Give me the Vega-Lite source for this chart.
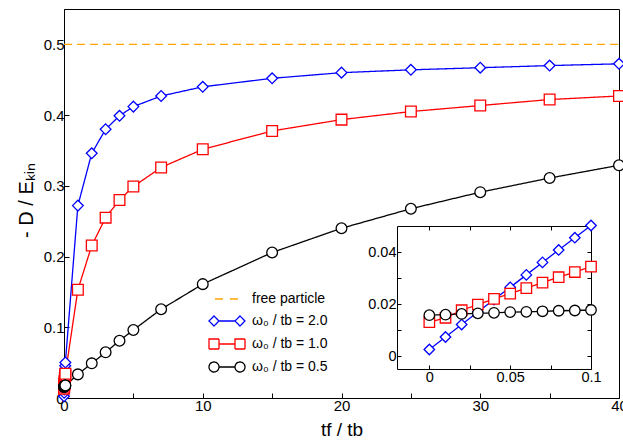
{
  "$schema": "https://vega.github.io/schema/vega-lite/v6.json",
  "width": 555,
  "height": 389,
  "autosize": {"type": "none"},
  "padding": {"left": 64, "top": 9, "right": 4, "bottom": 45},
  "background": "white",
  "config": {
    "font": "Liberation Sans",
    "view": {"stroke": "black", "strokeWidth": 1},
    "axis": {
      "grid": false,
      "domainColor": "black",
      "tickColor": "black",
      "labelColor": "black",
      "titleColor": "black",
      "labelFont": "Liberation Sans",
      "titleFont": "Liberation Sans",
      "titleFontWeight": "normal",
      "labelFontSize": 15,
      "tickSize": -5,
      "labelPadding": 5,
      "labelFlush": false,
      "labelOverlap": false
    }
  },
  "data": {
    "values": [
      {"s": "free particle", "x": 0, "y": 0.5},
      {"s": "free particle", "x": 40, "y": 0.5},
      {"s": "ω₀ / tb = 2.0", "x": 0, "y": 0.0025},
      {"s": "ω₀ / tb = 2.0", "x": 0.01, "y": 0.0073},
      {"s": "ω₀ / tb = 2.0", "x": 0.02, "y": 0.0121},
      {"s": "ω₀ / tb = 2.0", "x": 0.03, "y": 0.0169},
      {"s": "ω₀ / tb = 2.0", "x": 0.04, "y": 0.0217},
      {"s": "ω₀ / tb = 2.0", "x": 0.05, "y": 0.0264},
      {"s": "ω₀ / tb = 2.0", "x": 0.06, "y": 0.0312},
      {"s": "ω₀ / tb = 2.0", "x": 0.07, "y": 0.036},
      {"s": "ω₀ / tb = 2.0", "x": 0.08, "y": 0.0408},
      {"s": "ω₀ / tb = 2.0", "x": 0.09, "y": 0.0455},
      {"s": "ω₀ / tb = 2.0", "x": 0.1, "y": 0.0502},
      {"s": "ω₀ / tb = 2.0", "x": 1, "y": 0.272},
      {"s": "ω₀ / tb = 2.0", "x": 2, "y": 0.346},
      {"s": "ω₀ / tb = 2.0", "x": 3, "y": 0.38},
      {"s": "ω₀ / tb = 2.0", "x": 4, "y": 0.399},
      {"s": "ω₀ / tb = 2.0", "x": 5, "y": 0.412},
      {"s": "ω₀ / tb = 2.0", "x": 7, "y": 0.427},
      {"s": "ω₀ / tb = 2.0", "x": 10, "y": 0.44},
      {"s": "ω₀ / tb = 2.0", "x": 15, "y": 0.452},
      {"s": "ω₀ / tb = 2.0", "x": 20, "y": 0.46},
      {"s": "ω₀ / tb = 2.0", "x": 25, "y": 0.464},
      {"s": "ω₀ / tb = 2.0", "x": 30, "y": 0.467},
      {"s": "ω₀ / tb = 2.0", "x": 35, "y": 0.47},
      {"s": "ω₀ / tb = 2.0", "x": 40, "y": 0.4725},
      {"s": "ω₀ / tb = 1.0", "x": 0, "y": 0.013},
      {"s": "ω₀ / tb = 1.0", "x": 0.01, "y": 0.0147},
      {"s": "ω₀ / tb = 1.0", "x": 0.02, "y": 0.0176},
      {"s": "ω₀ / tb = 1.0", "x": 0.03, "y": 0.0198},
      {"s": "ω₀ / tb = 1.0", "x": 0.04, "y": 0.022},
      {"s": "ω₀ / tb = 1.0", "x": 0.05, "y": 0.024},
      {"s": "ω₀ / tb = 1.0", "x": 0.06, "y": 0.0261},
      {"s": "ω₀ / tb = 1.0", "x": 0.07, "y": 0.0282},
      {"s": "ω₀ / tb = 1.0", "x": 0.08, "y": 0.0303},
      {"s": "ω₀ / tb = 1.0", "x": 0.09, "y": 0.0323},
      {"s": "ω₀ / tb = 1.0", "x": 0.1, "y": 0.0344},
      {"s": "ω₀ / tb = 1.0", "x": 1, "y": 0.153},
      {"s": "ω₀ / tb = 1.0", "x": 2, "y": 0.2156},
      {"s": "ω₀ / tb = 1.0", "x": 3, "y": 0.255},
      {"s": "ω₀ / tb = 1.0", "x": 4, "y": 0.28},
      {"s": "ω₀ / tb = 1.0", "x": 5, "y": 0.299},
      {"s": "ω₀ / tb = 1.0", "x": 7, "y": 0.326},
      {"s": "ω₀ / tb = 1.0", "x": 10, "y": 0.3516},
      {"s": "ω₀ / tb = 1.0", "x": 15, "y": 0.3776},
      {"s": "ω₀ / tb = 1.0", "x": 20, "y": 0.3936},
      {"s": "ω₀ / tb = 1.0", "x": 25, "y": 0.405},
      {"s": "ω₀ / tb = 1.0", "x": 30, "y": 0.4135},
      {"s": "ω₀ / tb = 1.0", "x": 35, "y": 0.422},
      {"s": "ω₀ / tb = 1.0", "x": 40, "y": 0.427},
      {"s": "ω₀ / tb = 0.5", "x": 0, "y": 0.0157},
      {"s": "ω₀ / tb = 0.5", "x": 0.01, "y": 0.0159},
      {"s": "ω₀ / tb = 0.5", "x": 0.02, "y": 0.0162},
      {"s": "ω₀ / tb = 0.5", "x": 0.03, "y": 0.0164},
      {"s": "ω₀ / tb = 0.5", "x": 0.04, "y": 0.0166},
      {"s": "ω₀ / tb = 0.5", "x": 0.05, "y": 0.0169},
      {"s": "ω₀ / tb = 0.5", "x": 0.06, "y": 0.017},
      {"s": "ω₀ / tb = 0.5", "x": 0.07, "y": 0.0172},
      {"s": "ω₀ / tb = 0.5", "x": 0.08, "y": 0.0174},
      {"s": "ω₀ / tb = 0.5", "x": 0.09, "y": 0.0175},
      {"s": "ω₀ / tb = 0.5", "x": 0.1, "y": 0.0177},
      {"s": "ω₀ / tb = 0.5", "x": 1, "y": 0.0334},
      {"s": "ω₀ / tb = 0.5", "x": 2, "y": 0.049},
      {"s": "ω₀ / tb = 0.5", "x": 3, "y": 0.0646},
      {"s": "ω₀ / tb = 0.5", "x": 4, "y": 0.081},
      {"s": "ω₀ / tb = 0.5", "x": 5, "y": 0.0962},
      {"s": "ω₀ / tb = 0.5", "x": 7, "y": 0.1255},
      {"s": "ω₀ / tb = 0.5", "x": 10, "y": 0.161},
      {"s": "ω₀ / tb = 0.5", "x": 15, "y": 0.2057},
      {"s": "ω₀ / tb = 0.5", "x": 20, "y": 0.24},
      {"s": "ω₀ / tb = 0.5", "x": 25, "y": 0.2676},
      {"s": "ω₀ / tb = 0.5", "x": 30, "y": 0.291},
      {"s": "ω₀ / tb = 0.5", "x": 35, "y": 0.311},
      {"s": "ω₀ / tb = 0.5", "x": 40, "y": 0.329}
    ]
  },
  "layer": [
    {
      "encoding": {
        "x": {
          "field": "x", "type": "quantitative",
          "scale": {"domain": [0, 40], "nice": false, "zero": false},
          "axis": {
            "values": [0, 5, 10, 15, 20, 25, 30, 35, 40],
            "format": "d",
            "labelExpr": "datum.value % 10 === 0 ? datum.label : ''",
            "title": "tf / tb",
            "titleFontSize": 19,
            "titleY": 37,
            "titleBaseline": "alphabetic"
          }
        },
        "y": {
          "field": "y", "type": "quantitative",
          "scale": {"domain": [0, 0.55], "nice": false, "zero": false},
          "axis": {
            "values": [0, 0.1, 0.2, 0.3, 0.4, 0.5],
            "format": ".1~f",
            "title": "- D / Eₖᵢₙ",
            "titleFontSize": 20,
            "titleX": -32,
            "titleY": 191,
            "titleBaseline": "alphabetic"
          }
        },
        "color": {
          "field": "s", "type": "nominal",
          "scale": {
            "domain": ["free particle", "ω₀ / tb = 2.0", "ω₀ / tb = 1.0", "ω₀ / tb = 0.5"],
            "range": ["#ffa500", "#0000ff", "#ff0000", "#000000"]
          },
          "legend": {
            "orient": "none",
            "legendX": 156,
            "legendY": 283,
            "title": null,
            "padding": 0,
            "symbolSize": 100,
            "symbolStrokeWidth": 1.3,
            "symbolOpacity": 1,
            "labelOffset": 18,
            "labelFontSize": 14,
            "labelFont": "Liberation Sans",
            "labelColor": "black",
            "rowPadding": 7,
            "encode": {
              "symbols": {
                "update": {
                  "shape": {"signal": "datum.value === 'free particle' ? 'M-2.4,0H-0.8M0.6,0H2.2' : indexof(datum.value, '2.0') >= 0 ? 'M-3.6,0L-2.6,-1L-1.6,0L-2.6,1ZM-1.6,0H1.6M1.6,0L2.6,-1L3.6,0L2.6,1Z' : indexof(datum.value, '1.0') >= 0 ? 'M-3.6,-1H-1.6V1H-3.6ZM-1.6,0H1.6M1.6,-1H3.6V1H1.6Z' : 'M-1.6,0A1,1,0,1,1,-3.6,0A1,1,0,1,1,-1.6,0ZM-1.6,0H1.6M3.6,0A1,1,0,1,1,1.6,0A1,1,0,1,1,3.6,0Z'"},
                  "fill": {"value": "white"},
                  "strokeDash": {"value": []}
                }
              }
            }
          }
        }
      },
      "layer": [
        {
          "mark": {"type": "line", "strokeWidth": 1.3, "clip": false},
          "encoding": {
            "strokeDash": {
              "field": "s", "type": "nominal",
              "scale": {
                "domain": ["free particle", "ω₀ / tb = 2.0", "ω₀ / tb = 1.0", "ω₀ / tb = 0.5"],
                "range": [[8, 5], [1, 0], [1, 0], [1, 0]]
              },
              "legend": null
            }
          }
        },
        {
          "transform": [{"filter": "datum.s !== 'free particle'"}],
          "mark": {"type": "point", "filled": false, "fill": "white", "strokeWidth": 1.3, "size": 115, "opacity": 1, "clip": false},
          "encoding": {
            "shape": {
              "field": "s", "type": "nominal",
              "scale": {
                "domain": ["ω₀ / tb = 2.0", "ω₀ / tb = 1.0", "ω₀ / tb = 0.5"],
                "range": ["diamond", "square", "circle"]
              },
              "legend": null
            }
          }
        }
      ]
    },
    {
      "transform": [{"filter": "datum.x <= 0.1 && datum.s !== 'free particle'"}],
      "encoding": {
        "x": {
          "field": "x", "type": "quantitative",
          "scale": {"domain": [-0.02, 0.1], "range": [333, 527], "nice": false, "zero": false},
          "axis": {
            "orient": "bottom",
            "offset": -29,
            "values": [0, 0.025, 0.05, 0.075, 0.1],
            "labelExpr": "datum.value === 0.025 || datum.value === 0.075 ? '' : datum.label",
            "format": ".2~f",
            "labelFontSize": 14.5,
            "tickSize": -4,
            "title": null
          }
        },
        "y": {
          "field": "y", "type": "quantitative",
          "scale": {"domain": [-0.005, 0.05], "range": [360, 217], "nice": false, "zero": false},
          "axis": {
            "orient": "left",
            "offset": -333,
            "values": [0, 0.01, 0.02, 0.03, 0.04],
            "labelExpr": "datum.value === 0.01 || datum.value === 0.03 ? '' : datum.label",
            "format": ".2~f",
            "labelFontSize": 14.5,
            "tickSize": -4,
            "title": null
          }
        },
        "color": {"field": "s", "type": "nominal"}
      },
      "layer": [
        {"mark": {"type": "line", "strokeWidth": 1.3}},
        {
          "mark": {"type": "point", "filled": false, "fill": "white", "strokeWidth": 1.3, "size": 110, "opacity": 1},
          "encoding": {"shape": {"field": "s", "type": "nominal"}}
        }
      ]
    },
    {
      "transform": [{"filter": "datum.x <= 0.1 && datum.s !== 'free particle'"}],
      "mark": {"type": "point", "opacity": 0},
      "encoding": {
        "x": {
          "field": "x", "type": "quantitative",
          "scale": {"domain": [-0.02, 0.1], "range": [333, 527], "nice": false, "zero": false},
          "axis": {
            "orient": "top",
            "offset": -217,
            "values": [0, 0.025, 0.05, 0.075, 0.1],
            "labels": false,
            "tickSize": -4,
            "title": null
          }
        },
        "y": {
          "field": "y", "type": "quantitative",
          "scale": {"domain": [-0.005, 0.05], "range": [360, 217], "nice": false, "zero": false},
          "axis": {
            "orient": "right",
            "offset": -28,
            "values": [0, 0.01, 0.02, 0.03, 0.04],
            "labels": false,
            "tickSize": -4,
            "title": null
          }
        }
      }
    }
  ],
  "resolve": {
    "scale": {"x": "independent", "y": "independent"},
    "axis": {"x": "independent", "y": "independent"}
  }
}
